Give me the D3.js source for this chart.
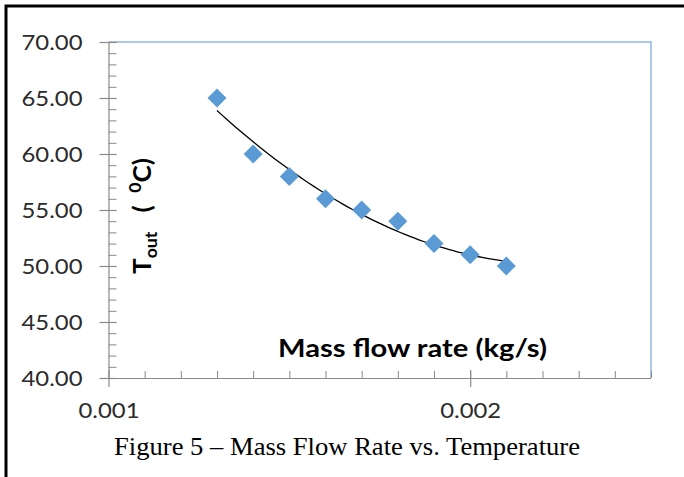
<!DOCTYPE html>
<html>
<head>
<meta charset="utf-8">
<script src="https://cdn.jsdelivr.net/npm/d3@7"></script>
<style>
    body { margin: 0; background: #fff; }
    svg { display: block; }
</style>
</head>
<body>
<svg id="svgChart" width="684" height="477"></svg>
<script>
// data
const flowRates = [0.0013, 0.0014, 0.0015, 0.0016, 0.0017, 0.0018, 0.0019, 0.0020, 0.0021];
const tempsOut = [65, 60, 58, 56, 55, 54, 52, 51, 50];
const yTicks = [40, 45, 50, 55, 60, 65, 70];
const xTicks = [0.001, 0.002];

const plot = {left: 108.5, right: 651, top: 42, bottom: 378};
const axisColor = '#8a8a8a';
const frameColor = '#93b8e3';
const pointColor = '#5b9bd5';

const svg = d3.select('#svgChart');

svg.append('rect')
    .attr('width', 684)
    .attr('height', 477)
    .style('fill', 'white');

// outer page frame
svg.append('path')
    .attr('d', 'M6,477 L6,6 L684,6')
    .style('fill', 'none')
    .style('stroke', 'black')
    .style('stroke-width', 3);

const xScale = d3.scaleLinear()
    .domain([0.001, 0.0025])
    .range([plot.left, plot.right]);

const yScale = d3.scaleLinear()
    .domain([40, 70])
    .range([plot.bottom, plot.top]);

// top + right border of plot area
svg.append('path')
    .attr('d', `M${plot.left},${plot.top} L${plot.right},${plot.top} L${plot.right},${plot.bottom}`)
    .style('fill', 'none')
    .style('stroke', frameColor)
    .style('stroke-width', 1.5);

// y axis: minor ticks
svg.append('g')
    .attr('transform', `translate(${plot.left}, 0)`)
    .call(d3.axisRight(yScale).tickValues(d3.range(40, 70.5, 1)).tickSize(8).tickFormat(''))
    .call(g => g.select('.domain').remove())
    .selectAll('line').style('stroke', axisColor);

// y axis: major ticks + labels
const yAxis = svg.append('g')
    .attr('transform', `translate(${plot.left}, 0)`)
    .call(d3.axisLeft(yScale).tickValues(yTicks).tickSize(9).tickPadding(17).tickFormat(d3.format('.2f')));

yAxis.selectAll('.tick line').attr('x2', -9).attr('x1', 8);
yAxis.select('.domain').attr('d', `M0.5,${plot.top}V${plot.bottom}`);

// x axis: minor ticks
svg.append('g')
    .attr('transform', `translate(0, ${plot.bottom})`)
    .call(d3.axisTop(xScale).tickValues(d3.range(11, 26).map(d => d / 10000)).tickSize(7).tickFormat(''))
    .call(g => g.select('.domain').remove())
    .selectAll('line').style('stroke', axisColor);

// x axis: major ticks + labels
const xAxis = svg.append('g')
    .attr('transform', `translate(0, ${plot.bottom})`)
    .call(d3.axisBottom(xScale).tickValues(xTicks).tickSize(9).tickPadding(15).tickFormat(d3.format('.3f')));

xAxis.selectAll('.tick line').attr('y1', -8).attr('y2', 9);
xAxis.select('.domain').attr('d', `M${plot.left},0.5H${plot.right}`);

[yAxis, xAxis].forEach(ax => {
    ax.selectAll('line, .domain').style('stroke', axisColor).style('stroke-width', 1.2);
    ax.selectAll('text')
        .style('font-family', 'Lato, "Open Sans", sans-serif')
        .style('font-size', '22px')
        .style('fill', '#2b2b2b')
        .attr('textLength', 61)
        .attr('lengthAdjust', 'spacingAndGlyphs');
});

// trendline: 2nd order polynomial least squares (as the spreadsheet trendline)
function polyFit2(xs, ys) {
    const mx = d3.mean(xs);
    const t = xs.map(v => (v - mx) * 10000);
    let s = [0, 0, 0, 0, 0], r = [0, 0, 0];
    t.forEach((ti, i) => {
        for (let k = 0; k < 5; k++) s[k] += Math.pow(ti, k);
        for (let k = 0; k < 3; k++) r[k] += ys[i] * Math.pow(ti, k);
    });
    const A = [[s[0], s[1], s[2]], [s[1], s[2], s[3]], [s[2], s[3], s[4]]];
    const det = m => m[0][0] * (m[1][1] * m[2][2] - m[1][2] * m[2][1])
        - m[0][1] * (m[1][0] * m[2][2] - m[1][2] * m[2][0])
        + m[0][2] * (m[1][0] * m[2][1] - m[1][1] * m[2][0]);
    const D = det(A);
    const coef = [0, 1, 2].map(c => det(A.map((row, i) => row.map((v, j) => j === c ? r[i] : v))) / D);
    return v => {
        const tv = (v - mx) * 10000;
        return coef[0] + coef[1] * tv + coef[2] * tv * tv;
    };
}

const fit = polyFit2(flowRates, tempsOut);
const xExtent = d3.extent(flowRates);
const trendXs = d3.range(0, 61).map(i => xExtent[0] + (xExtent[1] - xExtent[0]) * i / 60);

svg.append('path')
    .datum(trendXs)
    .attr('d', d3.line().x(d => xScale(d)).y(d => yScale(fit(d))))
    .style('fill', 'none')
    .style('stroke', 'black')
    .style('stroke-width', 1.3);

// data markers
svg.selectAll('.point')
    .data(flowRates.map((f, i) => ({x: f, y: tempsOut[i]})))
    .join('path')
        .classed('point', true)
        .attr('d', 'M0,-9.5 L9.5,0 L0,9.5 L-9.5,0 Z')
        .attr('transform', d => `translate(${xScale(d.x)}, ${yScale(d.y)})`)
        .style('fill', pointColor);

// axis titles
svg.append('text')
    .attr('x', 278)
    .attr('y', 357)
    .attr('textLength', 269)
    .attr('lengthAdjust', 'spacingAndGlyphs')
    .style('font-family', 'Lato, "Open Sans", sans-serif')
    .style('font-weight', 'bold')
    .style('font-size', '24px')
    .style('fill', 'black')
    .text('Mass flow rate (kg/s)');

const yTitle = svg.append('text')
    .attr('transform', 'translate(151, 274) rotate(-90)')
    .attr('textLength', 116)
    .attr('lengthAdjust', 'spacingAndGlyphs')
    .style('font-family', 'Lato, "Open Sans", sans-serif')
    .style('font-weight', 'bold')
    .style('font-size', '25px')
    .style('fill', 'black');

yTitle.append('tspan').text('T');
yTitle.append('tspan').attr('dy', 6).style('font-size', '17px').text('out');
yTitle.append('tspan').attr('dy', -6).text('\u00a0\u00a0\u00a0(\u00a0\u00a0');
yTitle.append('tspan').attr('dy', -10).style('font-size', '17px').text('0');
yTitle.append('tspan').attr('dy', 10).text('C)');

// caption
svg.append('text')
    .attr('x', 347)
    .attr('y', 455)
    .attr('text-anchor', 'middle')
    .attr('textLength', 466)
    .attr('lengthAdjust', 'spacingAndGlyphs')
    .style('font-family', '"Liberation Serif", "Times New Roman", serif')
    .style('font-size', '26px')
    .style('fill', 'black')
    .text('Figure 5 \u2013 Mass Flow Rate vs. Temperature');
</script>
</body>
</html>
